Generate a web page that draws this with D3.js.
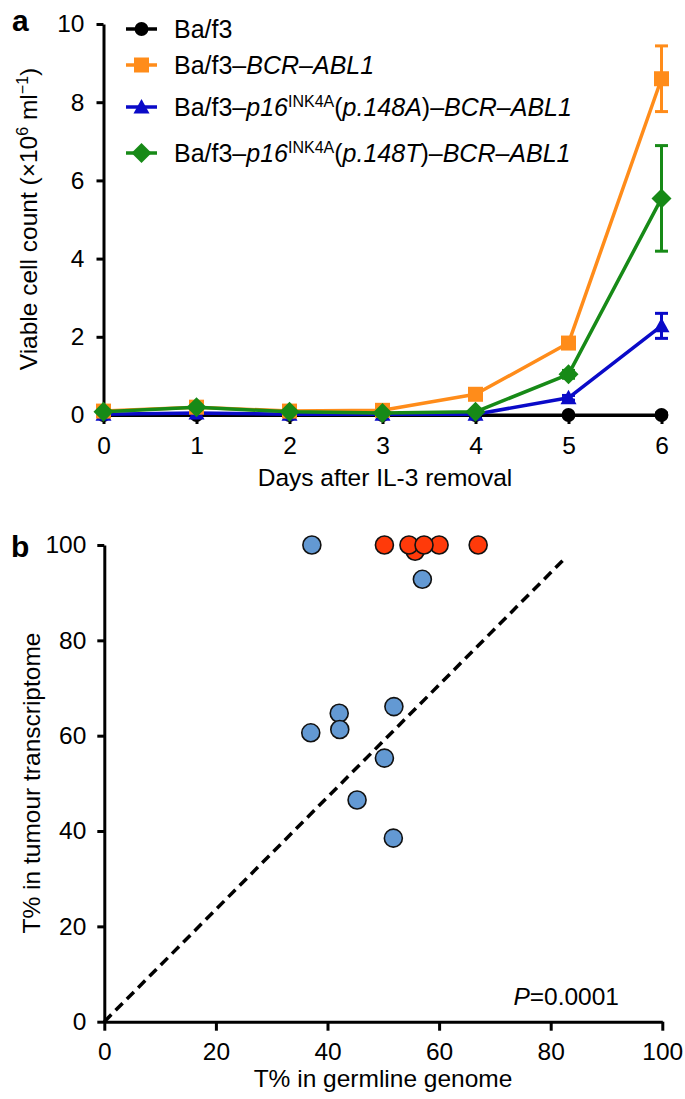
<!DOCTYPE html>
<html><head><meta charset="utf-8">
<script src="https://cdn.jsdelivr.net/npm/d3@7"></script>
<style>
body{margin:0;background:#fff;}
text{font-family:"Liberation Sans",Arial,Helvetica,sans-serif;}
</style></head>
<body><svg id="c" width="685" height="1099"></svg>
<script>
// ---------- Panel a data ----------
const days = [0,1,2,3,4,5,6];
const dayTicks = [0,1,2,3,4,5,6];
const countTicks = [0,2,4,6,8,10];
const seriesNames = ["Ba/f3","Ba/f3–BCR–ABL1","Ba/f3–p16INK4A(p.148A)–BCR–ABL1","Ba/f3–p16INK4A(p.148T)–BCR–ABL1"];
const seriesColors = ["#000000","#ff8c1a","#0a0ac8","#178a17"];
const seriesShapes = ["circle","square","triangle","diamond"];
const vBaf3   = [0.00,0.00,0.00,0.00,0.00,0.00,0.00];
const vBcrAbl = [0.10,0.20,0.10,0.12,0.53,1.84,8.60];
const v148A   = [0.02,0.05,0.02,0.02,0.02,0.44,2.28];
const v148T   = [0.08,0.20,0.08,0.05,0.08,1.04,5.54];
const eBaf3   = [0,0,0,0,0,0,0.05];
const eBcrAbl = [0.03,0.05,0.03,0.03,0.08,0.12,0.84];
const e148A   = [0.01,0.02,0.01,0.01,0.01,0.06,0.32];
const e148T   = [0.02,0.05,0.02,0.02,0.02,0.10,1.35];

// ---------- Panel b data ----------
const pctTicks = [0,20,40,60,80,100];
const blueX = [37.2,57.0,37.0,42.1,42.2,51.9,50.2,45.3,51.8];
const blueY = [100,92.8,60.6,64.7,61.3,66.1,55.3,46.5,38.5];
const redX  = [50.2,55.7,54.6,60.0,57.3,67.0];
const redY  = [100,98.7,100,100,100,100];
const fitX = [0,82.8];
const fitY = [0,97.5];
const pText = "0.0001";

const svg = d3.select("#c");
const FS = 24.5;
const FF = "Liberation Sans, Arial, sans-serif";

// ================= Panel a =================
const xa = d3.scaleLinear().domain([0,6]).range([103.5,661.5]);
const ya = d3.scaleLinear().domain([0,10]).range([415,24]);
const ga = svg.append("g");

const axA = ga.append("g").attr("transform","translate(103.5,0)")
  .call(d3.axisLeft(ya).tickValues(countTicks).tickFormat(d3.format("d")).tickSize(7).tickPadding(12).tickSizeOuter(0));
const axAx = ga.append("g").attr("transform","translate(0,415)")
  .call(d3.axisBottom(xa).tickValues(dayTicks).tickFormat(d3.format("d")).tickSize(9).tickPadding(13).tickSizeOuter(0));
[axA,axAx].forEach(a=>{
  a.select(".domain").attr("stroke","#000").attr("stroke-width",3);
  a.selectAll(".tick line").attr("stroke","#000").attr("stroke-width",3);
  a.selectAll(".tick text").attr("font-size",FS).attr("fill","#000").attr("font-family",FF);
});

const allVals = [vBaf3,vBcrAbl,v148A,v148T];
const allErr = [eBaf3,eBcrAbl,e148A,e148T];

function sym(shape){
  if (shape==="circle") return d3.symbol().type(d3.symbolCircle).size(150)();
  if (shape==="square") return "M-7.5,-7.5H7.5V7.5H-7.5Z";
  if (shape==="triangle") return "M0,-8L8,6.5H-8Z";
  return "M0,-10L10,0L0,10L-10,0Z";
}
const line = d3.line().x((d,i)=>xa(days[i])).y(d=>ya(d));
const order = [0,2,1,3];
order.forEach(s=>{
  const g = ga.append("g");
  const vals = allVals[s], errs = allErr[s], col = seriesColors[s];
  vals.forEach((v,i)=>{
    const e = errs[i];
    if (e <= 0) return;
    const x = xa(days[i]);
    g.append("line").attr("x1",x).attr("x2",x).attr("y1",ya(v+e)).attr("y2",ya(Math.max(0,v-e))).attr("stroke",col).attr("stroke-width",3);
    [v+e, v-e].forEach(yy=>{
      if (yy<0) return;
      g.append("line").attr("x1",x-6.5).attr("x2",x+6.5).attr("y1",ya(yy)).attr("y2",ya(yy)).attr("stroke",col).attr("stroke-width",3);
    });
  });
  g.append("path").datum(vals).attr("d",line).attr("fill","none").attr("stroke",col).attr("stroke-width",s===0?3:3.5).attr("stroke-linejoin","round");
  g.selectAll("path.m").data(vals).enter().append("path").attr("class","m")
    .attr("d",sym(seriesShapes[s]))
    .attr("transform",(d,i)=>`translate(${xa(days[i])},${ya(d)})`)
    .attr("fill",col);
});

// legend
const legY = [29,65,107,153];
const legG = ga.append("g");
seriesNames.forEach((n,i)=>{
  const y = legY[i], col = seriesColors[i];
  legG.append("line").attr("x1",126).attr("x2",157).attr("y1",y).attr("y2",y).attr("stroke",col).attr("stroke-width",3.5);
  legG.append("path").attr("d",sym(seriesShapes[i])).attr("transform",`translate(141.5,${y})`).attr("fill",col);
  const t = legG.append("text").attr("x",174).attr("y",y+9).attr("font-size",FS+0.5).attr("fill","#000");
  if (i===0){ t.text("Ba/f3"); }
  else if (i===1){ t.append("tspan").text("Ba/f3–"); t.append("tspan").attr("font-style","italic").text("BCR–ABL1"); }
  else {
    const mut = i===2 ? "p.148A" : "p.148T";
    t.append("tspan").text("Ba/f3–");
    t.append("tspan").attr("font-style","italic").text("p16");
    t.append("tspan").attr("font-size",16).attr("dy",-9).text("INK4A");
    t.append("tspan").attr("dy",9).text("(");
    t.append("tspan").attr("font-style","italic").text(mut);
    t.append("tspan").text(")–");
    t.append("tspan").attr("font-style","italic").text("BCR–ABL1");
  }
});

// axis titles a
ga.append("text").attr("x",385).attr("y",486).attr("text-anchor","middle").attr("font-size",FS).text("Days after IL-3 removal");
const yt = ga.append("text").attr("transform","translate(37,219) rotate(-90)").attr("text-anchor","middle").attr("font-size",FS);
yt.append("tspan").text("Viable cell count (×10");
yt.append("tspan").attr("font-size",16).attr("dy",-9).text("6");
yt.append("tspan").attr("dy",9).text(" ml");
yt.append("tspan").attr("font-size",16).attr("dy",-9).text("−1");
yt.append("tspan").attr("dy",9).text(")");
svg.append("text").attr("x",12).attr("y",31).attr("font-size",30).attr("font-weight","bold").text("a");

// ================= Panel b =================
const xb = d3.scaleLinear().domain([0,100]).range([104.3,662.3]);
const yb = d3.scaleLinear().domain([0,100]).range([1021.7,545]);
const gb = svg.append("g");
const axB = gb.append("g").attr("transform","translate(104.3,0)")
  .call(d3.axisLeft(yb).tickValues(pctTicks).tickSize(7).tickPadding(11).tickSizeOuter(0));
const axBx = gb.append("g").attr("transform","translate(0,1021.7)")
  .call(d3.axisBottom(xb).tickValues(pctTicks).tickSize(9).tickPadding(12).tickSizeOuter(0));
[axB,axBx].forEach(a=>{
  a.select(".domain").attr("stroke","#000").attr("stroke-width",3);
  a.selectAll(".tick line").attr("stroke","#000").attr("stroke-width",3);
  a.selectAll(".tick text").attr("font-size",FS).attr("fill","#000").attr("font-family",FF);
});
gb.append("line").attr("x1",xb(fitX[0])).attr("y1",yb(fitY[0])).attr("x2",xb(fitX[1])).attr("y2",yb(fitY[1]))
  .attr("stroke","#000").attr("stroke-width",3.5).attr("stroke-dasharray","10,6");
gb.selectAll("circle.blue").data(blueX).enter().append("circle").attr("class","blue")
  .attr("cx",d=>xb(d)).attr("cy",(d,i)=>yb(blueY[i])).attr("r",9)
  .attr("fill","#6399d3").attr("stroke","#111").attr("stroke-width",1.6);
gb.selectAll("circle.red").data(redX).enter().append("circle").attr("class","red")
  .attr("cx",d=>xb(d)).attr("cy",(d,i)=>yb(redY[i])).attr("r",9)
  .attr("fill","#ff3a0a").attr("stroke","#111").attr("stroke-width",1.6);
const pt = gb.append("text").attr("x",619).attr("y",1005).attr("text-anchor","end").attr("font-size",FS);
pt.append("tspan").attr("font-style","italic").text("P");
pt.append("tspan").text("="+pText);
gb.append("text").attr("x",383).attr("y",1087).attr("text-anchor","middle").attr("font-size",FS).text("T% in germline genome");
gb.append("text").attr("transform","translate(40,783) rotate(-90)").attr("text-anchor","middle").attr("font-size",FS).text("T% in tumour transcriptome");
svg.append("text").attr("x",11).attr("y",557).attr("font-size",30).attr("font-weight","bold").text("b");
</script></body></html>
